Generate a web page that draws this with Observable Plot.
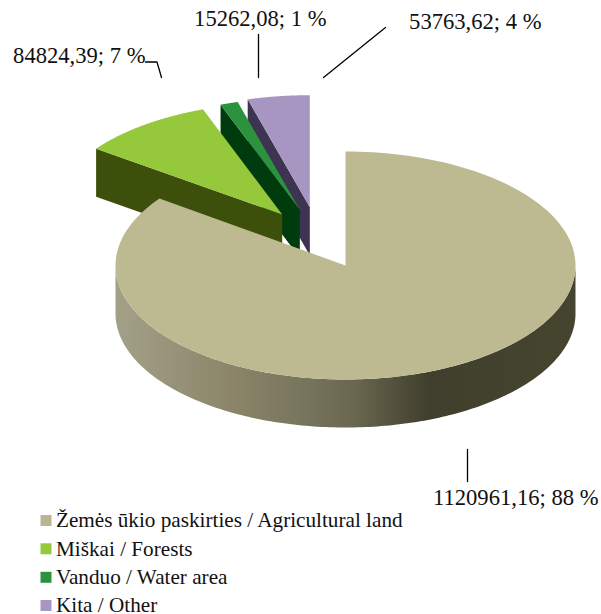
<!DOCTYPE html>
<html>
<head>
<meta charset="utf-8">
<style>html,body{margin:0;padding:0;background:#fff}svg{display:block}</style>
<script src="https://cdn.jsdelivr.net/npm/d3@7"></script>
<script src="https://cdn.jsdelivr.net/npm/@observablehq/plot@0.6"></script>
</head>
<body>
<div id="chart"></div>
<script>
// Data
const categories = ["Žemės ūkio paskirties / Agricultural land", "Miškai / Forests", "Vanduo / Water area", "Kita / Other"];
const areaValues = [1120961.16, 84824.39, 15262.08, 53763.62];
const percentLabels = [88, 7, 1, 4];
// the angular share each slice actually occupies in the drawing, in %
const drawnShares = [85, 9.4, 1.25, 4.35];

// Styles
const topColors = ["#bdb991", "#96c83b", "#2b923d", "#a896c2"];
const wallColors = ["url(#agriWall)", "#3c4f0b", "#003b0e", "#3c3450"];
const legendColors = ["#b9b591", "#96c83b", "#2b923d", "#a896c2"];

// Layout
const W = 601, H = 614;
const pie = {cx: 345, cy: 265, rx: 230, depth: 48};
const sliceRy = [114, 112, 112, 112];
const explodeX = [0, -63.3, -45.7, -35.7];
const explodeY = [0, -51, -55.7, -58.3];
const valueLabelX = [598, 145, 326, 541];
const valueLabelY = [497.5, 55, 18.5, 21.5];
const legendTextX = 55.5, legendSwatchX = 45.5;
const legendY = [520, 548.3, 576.8, 605];
const leaders = [
  [[467, 449], [467, 481]],
  [[145, 61.5], [156.5, 61.5], [161, 77]],
  [[258, 34], [258, 77]],
  [[323, 77], [385, 27]]
];

// Slice geometry from the shares
const pt = (deg, i, dz = 0) => {
  const t = deg * Math.PI / 180;
  return [pie.cx + explodeX[i] + pie.rx * Math.sin(t), pie.cy + explodeY[i] - sliceRy[i] * Math.cos(t) + dz];
};
const apex = (i, dz = 0) => [pie.cx + explodeX[i], pie.cy + explodeY[i] + dz];
let acc = 0;
const slices = drawnShares.map((s, i) => {
  const a0 = acc * 3.6; acc += s; const a1 = acc * 3.6;
  return {i, a0, a1};
});
const arcPts = (i, a0, a1, dz = 0) => d3.range(0, 181).map(k => pt(a0 + (a1 - a0) * k / 180, i, dz));
const topPoly = s => [apex(s.i), ...arcPts(s.i, s.a0, s.a1)];
const radialWall = s => [pt(s.a0, s.i), apex(s.i), apex(s.i, pie.depth), pt(s.a0, s.i, pie.depth)];
const frontWall = s => [...arcPts(s.i, 90, 270), ...arcPts(s.i, 270, 90, pie.depth)];

const poly = (points, fill) => Plot.line(points, {x: d => d[0], y: d => d[1], fill, stroke: "none"});

const defs = () => {
  const d = d3.create("svg:defs");
  const g = d.append("linearGradient").attr("id", "agriWall").attr("x1", 0).attr("x2", 1).attr("y1", 0).attr("y2", 0);
  [[0, "#a2a188"], [0.25, "#8c8569"], [0.4, "#78765e"], [0.52, "#69674f"], [0.68, "#403f2d"], [1, "#45452f"]]
    .forEach(([o, c]) => g.append("stop").attr("offset", o).attr("stop-color", c));
  return d.node();
};

const labelText = i => `${d3.format(".2f")(areaValues[i]).replace(".", ",")}; ${percentLabels[i]} %`;
const font = {fontFamily: "Liberation Serif", fill: "#111"};

// Painter's order: back slices first, the large slice last
const sliceMarks = [3, 2, 1].flatMap(i => [
  poly(radialWall(slices[i]), wallColors[i]),
  poly(topPoly(slices[i]), topColors[i])
]);

const chart = Plot.plot({
  width: W, height: H,
  margin: 0,
  style: {background: "#fff", fontFamily: "Liberation Serif"},
  x: {domain: [0, W], range: [0, W], axis: null},
  y: {domain: [0, H], range: [0, H], axis: null},
  marks: [
    defs,
    ...sliceMarks,
    poly(frontWall(slices[0]), wallColors[0]),
    poly(topPoly(slices[0]), topColors[0]),
    ...leaders.map(l => Plot.line(l, {x: d => d[0], y: d => d[1], stroke: "#000", strokeWidth: 1.3})),
    Plot.text(d3.range(4), {
      x: i => valueLabelX[i], y: i => valueLabelY[i], text: labelText,
      textAnchor: "end", lineAnchor: "middle", fontSize: 22.6, ...font
    }),
    Plot.dot(d3.range(4), {
      x: () => legendSwatchX, y: i => legendY[i], symbol: "square", r: 6.2,
      fill: i => legendColors[i], stroke: "none"
    }),
    Plot.text(d3.range(4), {
      x: () => legendTextX, y: i => legendY[i], text: i => categories[i],
      textAnchor: "start", lineAnchor: "middle", fontSize: 21.2, ...font
    })
  ]
});
document.getElementById("chart").append(chart);
</script>
</body>
</html>
